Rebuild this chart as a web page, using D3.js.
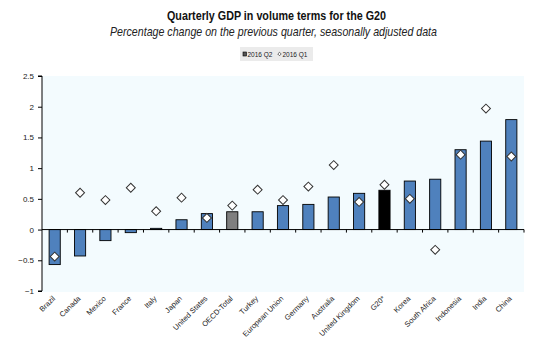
<!DOCTYPE html>
<html><head><meta charset="utf-8">
<script src="https://cdn.jsdelivr.net/npm/d3@7"></script>
<style>
body{margin:0;background:#fff;}
svg{display:block;}
text{font-family:"Liberation Sans",Arial,sans-serif;}
</style></head>
<body>
<svg id="c" width="557" height="360"></svg>
<script>
const categories = ["Brazil","Canada","Mexico","France","Italy","Japan","United States","OECD-Total","Turkey","European Union","Germany","Australia","United Kingdom","G20*","Korea","South Africa","Indonesia","India","China"];
const q2 = [-0.57,-0.43,-0.18,-0.05,0.02,0.16,0.26,0.29,0.29,0.39,0.41,0.53,0.59,0.64,0.79,0.82,1.30,1.44,1.79];
const q1 = [-0.44,0.60,0.48,0.68,0.30,0.52,0.19,0.39,0.65,0.48,0.70,1.05,0.45,0.73,0.50,-0.33,1.22,1.97,1.19];
const yTicks = [-1,-0.5,0,0.5,1,1.5,2,2.5];
const seriesNames = ["2016 Q2","2016 Q1"];
const title = "Quarterly GDP in volume terms for the G20";
const subtitle = "Percentage change on the previous quarter, seasonally adjusted data";

const svg = d3.select("#c");
const L = 42, R = 524, T = 76, B = 291;

svg.append("rect").attr("x",L).attr("y",T).attr("width",R-L).attr("height",B-T+1).attr("fill","#f3fbfe");

const x = d3.scaleBand().domain(categories).range([L,R]).paddingInner(0.56).paddingOuter(0.28);
const xb = d3.scaleBand().domain(categories).range([L,R]);
const y = d3.scaleLinear().domain([-1,2.5]).range([B,T]);

svg.append("text").attr("x",167).attr("y",20)
  .attr("textLength",219).attr("lengthAdjust","spacingAndGlyphs")
  .attr("font-size",13.5).attr("font-weight","bold").attr("fill","#111").text(title);
svg.append("text").attr("x",110).attr("y",36)
  .attr("textLength",327).attr("lengthAdjust","spacingAndGlyphs")
  .attr("font-size",13.5).attr("font-style","italic").attr("fill","#222").text(subtitle);

// legend
const lg = svg.append("g");
lg.append("rect").attr("x",240).attr("y",47).attr("width",73).attr("height",14).attr("fill","#ebebeb");
lg.append("rect").attr("x",243).attr("y",52).attr("width",3.5).attr("height",4).attr("fill","#555").attr("stroke","#000").attr("stroke-width",0.6);
lg.append("text").attr("x",247.5).attr("y",56.5).attr("font-size",7).attr("textLength",25).attr("lengthAdjust","spacingAndGlyphs").attr("fill","#222").text(seriesNames[0]);
lg.append("path").attr("d",d3.symbol(d3.symbolSquare,6)()).attr("transform","translate(279.5,54) rotate(45)").attr("fill","#fff").attr("stroke","#333").attr("stroke-width",0.7);
lg.append("text").attr("x",282.5).attr("y",56.5).attr("font-size",7).attr("textLength",25).attr("lengthAdjust","spacingAndGlyphs").attr("fill","#222").text(seriesNames[1]);

// bars
svg.append("g").selectAll("rect").data(categories).join("rect")
  .attr("x",d=>x(d)).attr("width",x.bandwidth())
  .attr("y",(d,i)=>y(Math.max(0,q2[i])))
  .attr("height",(d,i)=>Math.abs(y(q2[i])-y(0)))
  .attr("fill",d=>d==="OECD-Total"?"#7f7f7f":(d==="G20*"?"#000":"#4f81bd"))
  .attr("stroke","#000").attr("stroke-width",0.9);

// y axis
const ya = svg.append("g").attr("transform",`translate(${L},0)`)
  .call(d3.axisLeft(y).tickValues(yTicks).tickSize(4).tickPadding(4).tickFormat(d=>d3.format("")(d)));
ya.select(".domain").attr("stroke","#000").attr("d",`M-4,${y(2.5)}H0V${y(-1)}H-4`);
ya.selectAll("text").attr("font-size",8).attr("fill","#222");

// x axis at zero
const xa = svg.append("g").attr("transform",`translate(0,${y(0)})`);
xa.append("line").attr("x1",L).attr("x2",R).attr("stroke","#000").attr("stroke-width",1);
xa.selectAll("line.t").data(categories).join("line").attr("class","t")
  .attr("x1",d=>xb(d)+xb.bandwidth()).attr("x2",d=>xb(d)+xb.bandwidth())
  .attr("y1",0).attr("y2",3).attr("stroke","#000");

// markers
svg.append("g").selectAll("path").data(categories).join("path")
  .attr("d",d3.symbol(d3.symbolSquare,40)())
  .attr("transform",(d,i)=>`translate(${xb(d)+xb.bandwidth()/2},${y(q1[i])}) rotate(45)`)
  .attr("fill","#fff").attr("stroke","#333").attr("stroke-width",1);

// x labels
svg.append("g").selectAll("text").data(categories).join("text")
  .attr("transform",d=>`translate(${xb(d)+xb.bandwidth()/2+1},${299}) rotate(-45)`)
  .attr("text-anchor","end").attr("font-size",7.5).attr("fill","#222")
  .text(d=>d);
</script>
</body></html>
